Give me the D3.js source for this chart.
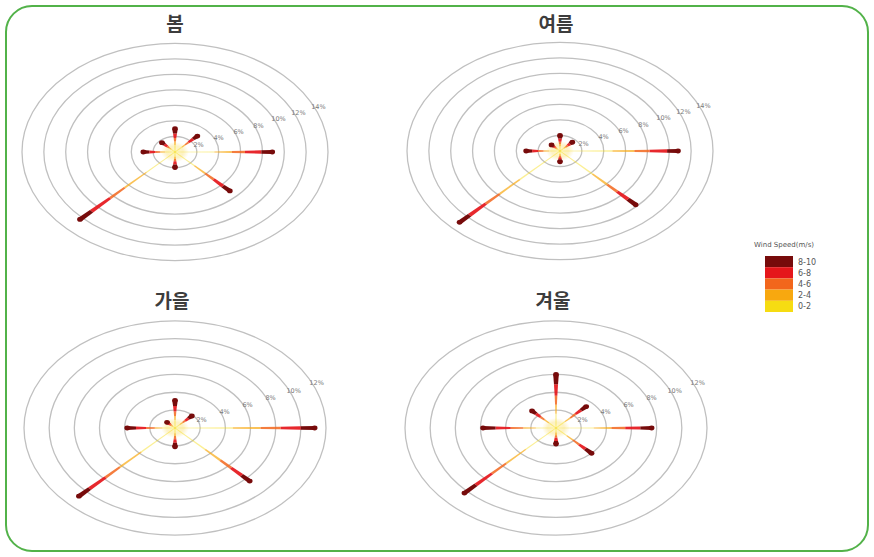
<!DOCTYPE html>
<html><head><meta charset="utf-8">
<script src="https://cdn.jsdelivr.net/npm/d3@7"></script>
<style>html,body{margin:0;padding:0;background:#fff}svg{display:block}</style>
</head><body>
<script>
// ---- data ----
const seasons = ["봄", "여름", "가을", "겨울"];
const directions = ["N", "NE", "E", "SE", "S", "SW", "W", "NW"];
const speedBins = ["0-2", "2-4", "4-6", "6-8", "8-10"];
// frequency (%) per speed bin, per direction (N, NE, E, SE, S, SW, W, NW)
const spring0 = [0.9, 0.9, 3.6, 2.5, 0.6, 3.7, 0.9, 0.5];
const spring1 = [0.45, 0.4, 1.6, 1.4, 0.3, 2.8, 0.45, 0.25];
const spring2 = [0.45, 0.45, 1.2, 1.1, 0.3, 1.9, 0.45, 0.25];
const spring3 = [0.6, 0.6, 1.5, 1.2, 0.4, 2.4, 0.55, 0.35];
const spring4 = [0.6, 0.55, 1.0, 0.9, 0.4, 1.5, 0.55, 0.35];
const summer0 = [0.6, 0.5, 4.8, 4.2, 0.4, 5.2, 1.0, 0.35];
const summer1 = [0.3, 0.25, 2.0, 1.9, 0.2, 2.6, 0.5, 0.15];
const summer2 = [0.3, 0.25, 1.4, 1.3, 0.2, 1.8, 0.5, 0.15];
const summer3 = [0.4, 0.3, 1.6, 1.4, 0.3, 2.1, 0.55, 0.2];
const summer4 = [0.4, 0.3, 1.0, 1.0, 0.3, 1.3, 0.55, 0.25];
const autumn0 = [0.9, 0.55, 4.6, 3.4, 0.6, 3.8, 1.0, 0.25];
const autumn1 = [0.45, 0.3, 2.2, 1.7, 0.3, 2.4, 0.6, 0.15];
const autumn2 = [0.5, 0.3, 1.6, 1.2, 0.35, 1.6, 0.7, 0.15];
const autumn3 = [0.6, 0.35, 1.6, 1.2, 0.4, 1.8, 0.8, 0.15];
const autumn4 = [0.65, 0.4, 1.1, 0.9, 0.45, 1.2, 0.7, 0.2];
const winter0 = [1.6, 1.0, 3.0, 1.2, 0.5, 3.4, 1.6, 0.8];
const winter1 = [1.0, 0.6, 1.4, 0.7, 0.3, 2.2, 1.0, 0.5];
const winter2 = [1.0, 0.6, 1.1, 0.7, 0.3, 1.6, 1.0, 0.45];
const winter3 = [1.3, 0.6, 1.2, 0.7, 0.35, 1.8, 1.2, 0.5];
const winter4 = [1.1, 0.6, 0.9, 0.7, 0.35, 1.3, 1.0, 0.45];
const ringTicks7 = [2, 4, 6, 8, 10, 12, 14];
const ringTicks6 = [2, 4, 6, 8, 10, 12];

const seasonData = [
  [spring0, spring1, spring2, spring3, spring4],
  [summer0, summer1, summer2, summer3, summer4],
  [autumn0, autumn1, autumn2, autumn3, autumn4],
  [winter0, winter1, winter2, winter3, winter4]
];
const seasonTicks = [ringTicks7, ringTicks7, ringTicks6, ringTicks6];

// ---- layout ----
const W = 874, H = 557, K = 0.71;
const layout = [
  {cx: 175, cy: 152, R: 153, tx: 175, ty: 31},
  {cx: 560, cy: 151, R: 153, tx: 556, ty: 31},
  {cx: 175, cy: 428, R: 151, tx: 172, ty: 308},
  {cx: 556, cy: 428, R: 151, tx: 553, ty: 308}
];
const binColors = ["#f6dc12", "#f8a80f", "#f2661c", "#e5161b", "#770b0b"];
const binOpacity = [0.45, 0.7, 0.85, 0.92, 1];
const color = d3.scaleOrdinal().domain(speedBins).range(binColors);

const svg = d3.select("body").append("svg").attr("width", W).attr("height", H);
svg.append("rect").attr("width", W).attr("height", H).attr("fill", "#fff");
svg.append("rect").attr("x", 6).attr("y", 6).attr("width", 862).attr("height", 545)
  .attr("rx", 26).attr("fill", "none").attr("stroke", "#52b249").attr("stroke-width", 2);

const defs = svg.append("defs");
const glow = defs.append("radialGradient").attr("id", "glow");
glow.append("stop").attr("offset", "0%").attr("stop-color", "#fffbd0").attr("stop-opacity", 1);
glow.append("stop").attr("offset", "60%").attr("stop-color", "#fbe9a0").attr("stop-opacity", 0.6);
glow.append("stop").attr("offset", "100%").attr("stop-color", "#fbe9a0").attr("stop-opacity", 0);

seasons.forEach((name, si) => {
  const L = layout[si];
  const ticks = seasonTicks[si];
  const maxV = ticks[ticks.length - 1];
  const r = d3.scaleLinear().domain([0, maxV]).range([0, L.R]);
  const angle = d3.scalePoint().domain(directions).range([0, 315]);
  const g = svg.append("g");
  const proj = (rad, th, off) => {
    const t = th * Math.PI / 180;
    const ux = Math.sin(t), uy = -Math.cos(t);
    const px = Math.cos(t), py = Math.sin(t);
    return [L.cx + rad * ux + off * px, L.cy + (rad * uy + off * py) * K];
  };

  // rings
  g.selectAll("ellipse.ring").data(ticks).join("ellipse")
    .attr("cx", L.cx).attr("cy", L.cy)
    .attr("rx", d => r(d)).attr("ry", d => r(d) * K)
    .attr("fill", "none").attr("stroke", "#c0c0c0").attr("stroke-width", 1.3);

  // ring labels
  g.selectAll("text.rl").data(ticks).join("text")
    .attr("x", d => proj(r(d) + 4, 66, 0)[0])
    .attr("y", d => proj(r(d) + 4, 66, 0)[1] + 2)
    .attr("text-anchor", "middle")
    .attr("font-family", "DejaVu Sans, sans-serif").attr("font-size", 6.5)
    .attr("fill", "#7a7a7a").text(d => d + "%");

  // center glow
  g.append("ellipse").attr("cx", L.cx).attr("cy", L.cy).attr("rx", 14).attr("ry", 10)
    .attr("fill", "url(#glow)");

  // spokes
  const bins = seasonData[si];
  const line = d3.line();
  directions.forEach((dir, di) => {
    const th = angle(dir);
    const total = d3.sum(bins, vals => vals[di]);
    const hw = v => 0.5 + 2.3 * Math.pow(v / total, 2);
    let acc = 0;
    bins.forEach((vals, b) => {
      const v0 = acc, v1 = acc + vals[di];
      acc = v1;
      const r0 = r(v0), r1 = r(v1);
      const h0 = hw(v0), h1 = hw(v1);
      const pts = [proj(r0, th, -h0), proj(r1, th, -h1), proj(r1, th, h1), proj(r0, th, h0)];
      g.append("path").attr("d", line(pts) + "Z")
        .attr("fill", color(speedBins[b])).attr("fill-opacity", binOpacity[b]);
    });
    // rounded tip
    const tip = proj(r(acc), th, 0);
    const ht = hw(acc);
    g.append("ellipse").attr("cx", tip[0]).attr("cy", tip[1])
      .attr("rx", ht).attr("ry", ht * 0.85)
      .attr("fill", color(speedBins[4]));
  });

  // title
  svg.append("text").attr("x", L.tx).attr("y", L.ty).attr("text-anchor", "middle")
    .attr("font-family", "Noto Sans CJK KR, sans-serif").attr("font-weight", "bold")
    .attr("font-size", 19).attr("fill", "#3d3d3d").text(name);
});

// legend
const lg = svg.append("g");
lg.append("text").attr("x", 754).attr("y", 247)
  .attr("font-family", "DejaVu Sans, sans-serif").attr("font-size", 7)
  .attr("fill", "#555").text("Wind Speed(m/s)");
const legendOrder = speedBins.slice().reverse();
const ly = d3.scaleBand().domain(legendOrder).range([256, 312]);
lg.selectAll("rect.lb").data(legendOrder).join("rect")
  .attr("x", 765).attr("y", d => ly(d)).attr("width", 28).attr("height", ly.bandwidth())
  .attr("fill", d => color(d));
lg.selectAll("text.lt").data(legendOrder).join("text")
  .attr("x", 798).attr("y", d => ly(d) + ly.bandwidth() / 2 + 3)
  .attr("font-family", "DejaVu Sans, sans-serif").attr("font-size", 8)
  .attr("fill", "#555").text(d => d);
</script>
</body></html>
